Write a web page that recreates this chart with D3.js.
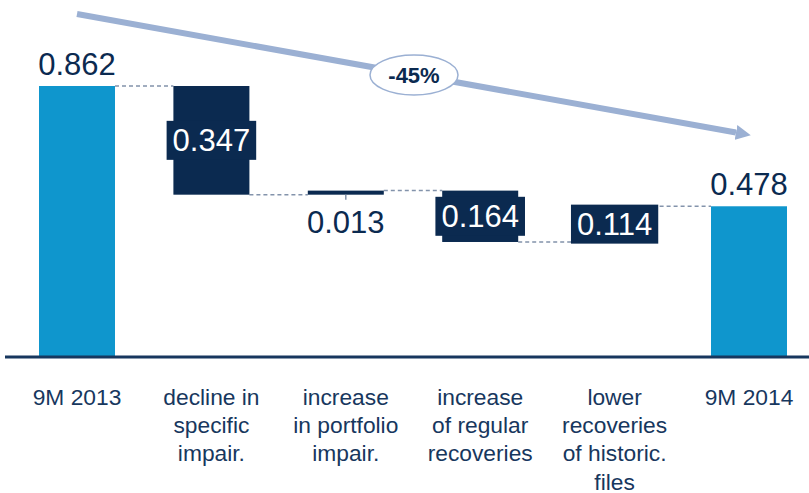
<!DOCTYPE html>
<html>
<head>
<meta charset="utf-8">
<script src="https://cdn.jsdelivr.net/npm/d3@7"></script>
<style>
  body { margin: 0; background: #fff; }
  svg { display: block; font-family: "Liberation Sans", Arial, sans-serif; }
</style>
</head>
<body>
<svg id="chart" width="809" height="493"></svg>
<script>
// waterfall steps: totals at both ends, signed changes in between
var categories = ["9M 2013", "decline in specific impair.", "increase in portfolio impair.",
                  "increase of regular recoveries", "lower recoveries of historic. files", "9M 2014"];
var categoryLines = [
    ["9M 2013"],
    ["decline in", "specific", "impair."],
    ["increase", "in portfolio", "impair."],
    ["increase", "of regular", "recoveries"],
    ["lower", "recoveries", "of historic.", "files"],
    ["9M 2014"]
];
var values = [0.862, -0.347, 0.013, -0.164, 0.114, 0.478];
var isTotal = [true, false, false, false, false, true];
var valueLabels = ["0.862", "0.347", "0.013", "0.164", "0.114", "0.478"];
var changeLabel = "-45%";

var lightBlue = "#0f96cd";
var navy = "#0b2a50";
var textNavy = "#17375e";
var arrowBlue = "#9bb0d3";

var svg = d3.select("#chart");
var baseY = 356;

var x = d3.scaleBand()
    .domain(categories)
    .range([9.8, 816.2])
    .paddingInner(0.4345)
    .paddingOuter(0.4345 / 2);

var y = d3.scaleLinear()
    .domain([0, 0.862])
    .range([baseY, 86]);

// running totals
var running = 0;
var steps = categories.map(function(c, i) {
    var s;
    if (isTotal[i]) {
        s = {cat: c, y0: 0, y1: values[i], level: values[i]};
        running = values[i];
    } else {
        var from = running;
        running = running + values[i];
        s = {cat: c, y0: Math.min(from, running), y1: Math.max(from, running), level: running};
    }
    s.total = isTotal[i];
    s.label = valueLabels[i];
    return s;
});

// trend arrow from first to last total
svg.append("defs").append("marker")
    .attr("id", "head")
    .attr("viewBox", "0 0 10 10")
    .attr("refX", 0)
    .attr("refY", 5)
    .attr("markerWidth", 2.5)
    .attr("markerHeight", 2.5)
    .attr("orient", "auto")
    .append("path")
    .attr("d", "M0,0 L10,5 L0,10 z")
    .attr("fill", arrowBlue);

svg.append("line")
    .attr("x1", 77).attr("y1", 14)
    .attr("x2", 736).attr("y2", 132.5)
    .attr("stroke", arrowBlue)
    .attr("stroke-width", 6)
    .attr("marker-end", "url(#head)");

svg.append("ellipse")
    .attr("cx", 414).attr("cy", 75)
    .attr("rx", 44).attr("ry", 20)
    .attr("fill", "#fff")
    .attr("stroke", arrowBlue)
    .attr("stroke-width", 1.5);

svg.append("text")
    .attr("x", 414).attr("y", 83)
    .attr("text-anchor", "middle")
    .attr("font-size", 22)
    .attr("font-weight", "bold")
    .attr("fill", navy)
    .text(changeLabel);

// dashed connectors between consecutive steps
var connectors = steps.slice(0, -1).map(function(s, i) {
    return {x1: x(s.cat) + x.bandwidth(), x2: x(steps[i + 1].cat), level: s.level};
});
svg.selectAll("line.conn")
    .data(connectors)
    .enter()
    .append("line")
    .attr("class", "conn")
    .attr("x1", function(d) { return d.x1; })
    .attr("x2", function(d) { return d.x2; })
    .attr("y1", function(d) { return y(d.level); })
    .attr("y2", function(d) { return y(d.level); })
    .attr("stroke", "#8393ab")
    .attr("stroke-width", 1.5)
    .attr("stroke-dasharray", "4,3");

svg.selectAll("rect.bar")
    .data(steps)
    .enter()
    .append("rect")
    .attr("class", "bar")
    .attr("x", function(d) { return x(d.cat); })
    .attr("width", x.bandwidth())
    .attr("y", function(d) { return y(d.y1); })
    .attr("height", function(d) { return y(d.y0) - y(d.y1); })
    .attr("fill", function(d) { return d.total ? lightBlue : navy; });

// axis line
svg.append("line")
    .attr("x1", 5).attr("x2", 809)
    .attr("y1", baseY + 1).attr("y2", baseY + 1)
    .attr("stroke", textNavy)
    .attr("stroke-width", 3);

// value labels
steps.forEach(function(d) {
    var cx = x(d.cat) + x.bandwidth() / 2;
    if (d.total) {
        svg.append("text")
            .attr("x", cx).attr("y", y(d.y1) - 11)
            .attr("text-anchor", "middle")
            .attr("font-size", 31)
            .attr("fill", navy)
            .text(d.label);
    } else if (y(d.y0) - y(d.y1) < 10) {
        // thin step: label hangs below on a short tick
        svg.append("line")
            .attr("x1", cx).attr("x2", cx)
            .attr("y1", y(d.y0)).attr("y2", y(d.y0) + 5)
            .attr("stroke", "#8393ab")
            .attr("stroke-width", 1.5);
        svg.append("text")
            .attr("x", cx).attr("y", y(d.y0) + 38)
            .attr("text-anchor", "middle")
            .attr("font-size", 31)
            .attr("fill", navy)
            .text(d.label);
    } else {
        var cy = (y(d.y0) + y(d.y1)) / 2;
        var g = svg.append("g");
        var box = g.append("rect").attr("fill", navy);
        var t = g.append("text")
            .attr("x", cx).attr("y", cy + 11)
            .attr("text-anchor", "middle")
            .attr("font-size", 31)
            .attr("fill", "#fff")
            .text(d.label);
        var bb = t.node().getBBox();
        box.attr("x", cx - bb.width / 2 - 6)
            .attr("width", bb.width + 12)
            .attr("y", cy - 19.5)
            .attr("height", 39);
    }
});

// category labels
var cats = svg.selectAll("g.cat")
    .data(categories)
    .enter()
    .append("g")
    .attr("class", "cat")
    .attr("transform", function(d) {
        return "translate(" + (x(d) + x.bandwidth() / 2) + ",405) scale(1.06,1)";
    });

cats.append("text")
    .attr("text-anchor", "middle")
    .attr("font-size", 21.5)
    .attr("fill", textNavy)
    .selectAll("tspan")
    .data(function(d, i) { return categoryLines[i]; })
    .enter()
    .append("tspan")
    .attr("x", 0)
    .attr("y", function(d, i) { return i * 28.2; })
    .text(function(d) { return d; });
</script>
</body>
</html>
